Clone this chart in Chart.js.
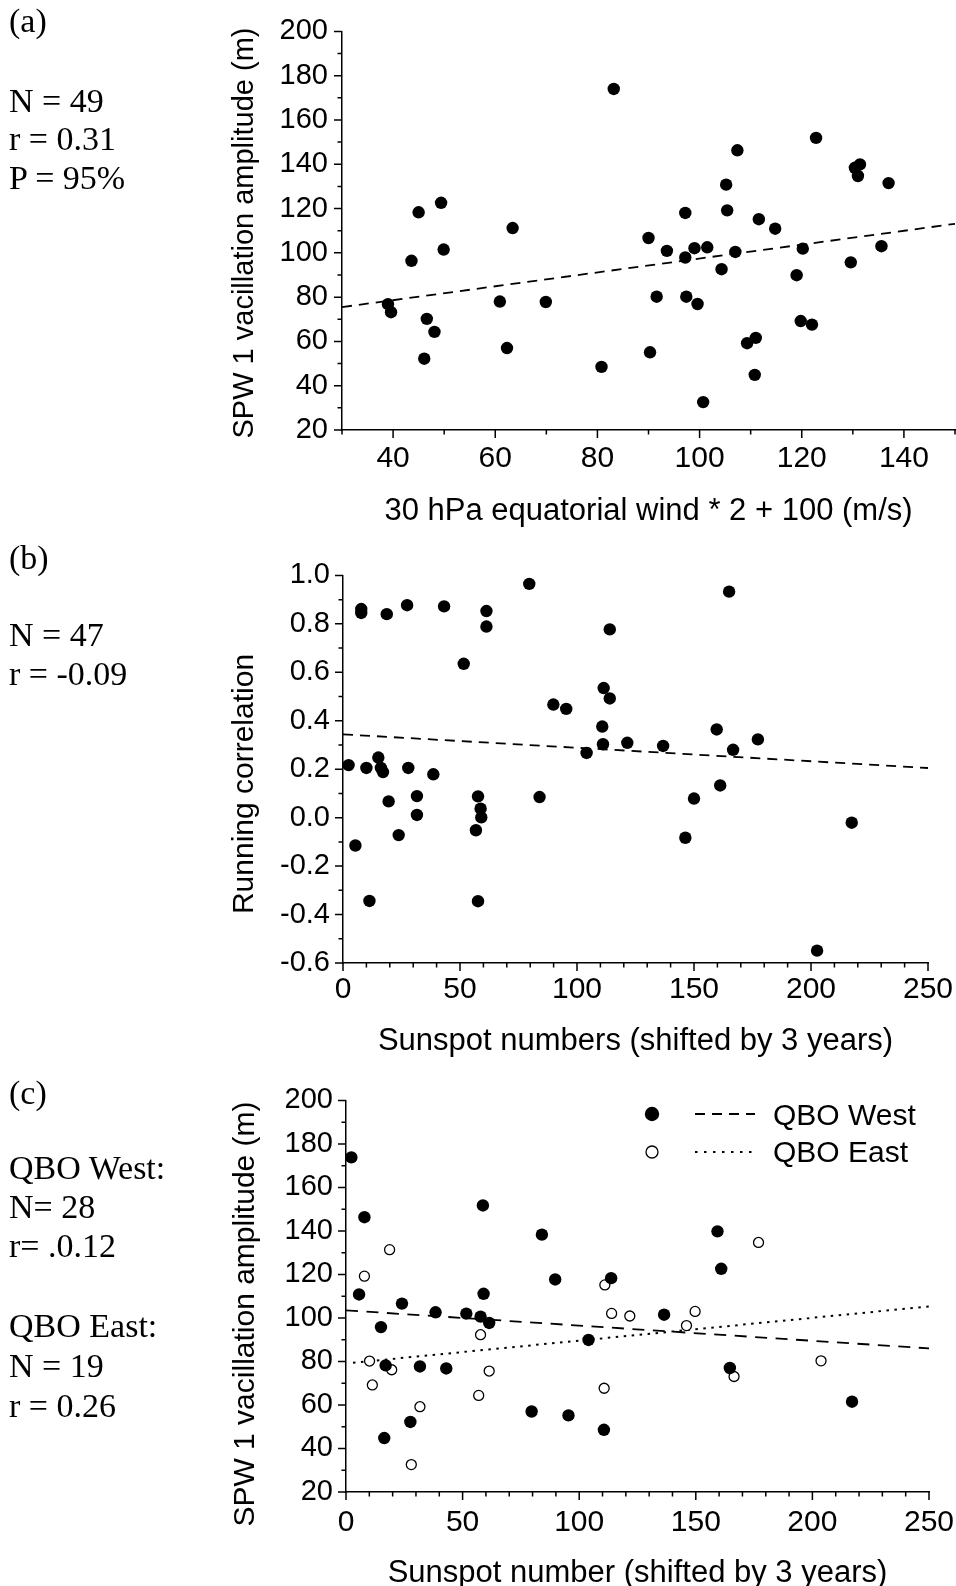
<!DOCTYPE html>
<html>
<head>
<meta charset="utf-8">
<script src="https://cdn.jsdelivr.net/npm/chart.js@4.4.1/dist/chart.umd.min.js"></script>
<style>
  html, body { margin: 0; padding: 0; background: #fff; overflow: hidden; }
  body { position: relative; width: 956px; height: 1586px; }
  canvas { position: absolute; left: 0; }
  .note { position: absolute; left: 9px; font-family: 'Liberation Serif', 'Times New Roman', serif; font-size: 34px; line-height: 34px; white-space: nowrap; color: #000; }
  .ytitle { position: absolute; width: 600px; height: 36px; text-align: center; font-family: 'Liberation Sans', Arial, sans-serif; font-size: 30px; line-height: 36px; white-space: nowrap; color: #000; transform: rotate(-90deg); }
  #legendC { position: absolute; left: 630px; top: 1095px; }
</style>
</head>
<body>

<!-- canvases are a little wider than the page so the last tick label is not squeezed -->
<canvas id="chartA" width="1000" height="545" style="top:0px"></canvas>
<canvas id="chartB" width="1000" height="525" style="top:545px"></canvas>
<canvas id="chartC" width="1000" height="530" style="top:1070px"></canvas>

<!-- panel notes -->
<div class="note" style="top:4px">(a)</div>
<div class="note" style="top:84px">N = 49</div>
<div class="note" style="top:122px">r = 0.31</div>
<div class="note" style="top:161px">P = 95%</div>

<div class="note" style="top:541px">(b)</div>
<div class="note" style="top:618px">N = 47</div>
<div class="note" style="top:657px">r = -0.09</div>

<div class="note" style="top:1076px">(c)</div>
<div class="note" style="top:1151px">QBO West:</div>
<div class="note" style="top:1190px">N= 28</div>
<div class="note" style="top:1229px">r= .0.12</div>
<div class="note" style="top:1309px">QBO East:</div>
<div class="note" style="top:1349px">N = 19</div>
<div class="note" style="top:1389px">r = 0.26</div>

<!-- y axis titles (placed off-centre like the original) -->
<div class="ytitle" style="left:-57px; top:215px; font-size:29px">SPW 1 vacillation amplitude (m)</div>
<div class="ytitle" style="left:-57px; top:766px">Running correlation</div>
<div class="ytitle" style="left:-56px; top:1296px">SPW 1 vacillation amplitude (m)</div>

<!-- legend for (c) -->
<svg id="legendC" width="300" height="80">
  <circle cx="22" cy="19" r="7.2" fill="#000"></circle>
  <line x1="65" y1="19" x2="125" y2="19" stroke="#000" stroke-width="1.8" stroke-dasharray="10 7"></line>
  <text x="143" y="30" font-family="Liberation Sans, Arial, sans-serif" font-size="30">QBO West</text>
  <circle cx="22" cy="57" r="6" fill="#fff" stroke="#000" stroke-width="1.3"></circle>
  <line x1="65" y1="57" x2="128" y2="57" stroke="#000" stroke-width="2" stroke-dasharray="2.5 6.5"></line>
  <text x="143" y="67" font-family="Liberation Sans, Arial, sans-serif" font-size="30">QBO East</text>
</svg>

<script>
const FONT = "'Liberation Sans', Arial, sans-serif";
const CANVAS_W = 1000;

// (a) SPW 1 amplitude vs 30 hPa equatorial wind
const aWind = [83.2, 45.0, 49.4, 63.4, 49.9, 43.6, 39.0, 39.6, 60.9, 69.9, 46.6, 48.1, 62.3, 46.1, 80.8,
  90.0, 90.3, 91.6, 93.6, 97.2, 97.2, 97.4, 99.0, 99.6, 100.7, 101.5, 104.3, 105.2, 105.4, 107.0, 107.4,
  109.3, 111.0, 110.8, 111.6, 114.8, 119.0, 119.8, 120.2, 122.0, 122.8, 129.6, 130.4, 131.4, 131.0, 135.6, 137.0];
const aAmp = [174.0, 118.3, 122.6, 111.2, 101.5, 96.4, 76.8, 73.2, 78.0, 77.8, 70.2, 64.3, 57.0, 52.2, 48.5,
  106.7, 55.1, 80.2, 100.9, 118.0, 97.9, 80.2, 102.1, 76.9, 32.6, 102.5, 92.6, 130.8, 119.2, 100.4, 146.3,
  59.2, 61.6, 44.9, 115.2, 110.9, 89.9, 69.2, 101.9, 67.6, 151.9, 95.7, 138.4, 139.9, 134.7, 103.0, 131.5];
const aFitX = [30, 150];
const aFitY = [75.5, 113.1];
const aXTicks = [40, 60, 80, 100, 120, 140];
const aYTicks = [20, 40, 60, 80, 100, 120, 140, 160, 180, 200];

// (b) running correlation vs sunspot numbers
const bSunspots = [79.6, 7.8, 7.8, 18.7, 27.4, 43.2, 61.3, 61.3, 114.0, 51.6, 89.9, 95.4, 111.4, 114.0, 110.8, 111.1,
  121.5, 104.1, 2.4, 10.0, 15.1, 16.2, 17.1, 27.9, 38.6, 19.5, 31.6, 31.6, 57.7, 58.8, 59.1, 56.8, 84.0, 23.8,
  5.3, 11.3, 57.7, 165.0, 159.7, 136.8, 166.7, 177.3, 161.2, 150.0, 146.3, 217.4, 202.6];
const bCorr = [0.965, 0.861, 0.845, 0.840, 0.877, 0.872, 0.853, 0.789, 0.777, 0.635, 0.467, 0.449, 0.535, 0.492, 0.376, 0.303,
  0.309, 0.267, 0.217, 0.205, 0.248, 0.205, 0.188, 0.205, 0.179, 0.067, 0.089, 0.011, 0.088, 0.037, 0.001, -0.052, 0.085, -0.072,
  -0.115, -0.344, -0.345, 0.933, 0.364, 0.296, 0.280, 0.323, 0.133, 0.079, -0.083, -0.021, -0.549];
const bFitX = [0, 250];
const bFitY = [0.344, 0.205];
const bXTicks = [0, 50, 100, 150, 200, 250];
const bYTicks = [-0.6, -0.4, -0.2, 0, 0.2, 0.4, 0.6, 0.8, 1.0];

// (c) SPW 1 amplitude vs sunspot number, split by QBO phase
const cSunWest = [2.3, 7.9, 5.6, 24.0, 15.0, 17.0, 31.7, 43.0, 38.4, 51.6, 57.7, 61.4, 59.0, 58.7, 84.0, 89.7, 113.7,
  104.0, 79.6, 95.4, 110.6, 27.6, 16.4, 159.3, 160.9, 136.4, 164.6, 217.0];
const cAmpWest = [173.8, 146.3, 110.8, 106.6, 95.8, 78.2, 77.7, 76.8, 102.6, 102.0, 100.6, 97.7, 111.1, 151.7, 138.3, 117.7, 118.3,
  89.9, 57.0, 55.2, 48.6, 52.2, 44.8, 139.8, 122.6, 101.5, 77.0, 61.5];
const cSunEast = [18.7, 7.9, 10.1, 19.6, 11.3, 31.7, 28.0, 57.7, 61.4, 56.9, 111.0, 113.9, 121.7, 110.7, 176.9, 149.7, 146.0, 166.4, 203.7];
const cAmpEast = [131.4, 119.2, 80.2, 76.2, 69.2, 59.2, 32.6, 92.3, 75.6, 64.4, 115.2, 102.1, 100.9, 67.7, 134.7, 103.0, 96.5, 73.1, 80.3];
const cFitWestX = [0, 250];
const cFitWestY = [103.5, 86.0];
const cFitEastX = [3, 250];
const cFitEastY = [79.4, 105.3];
const cXTicks = [0, 50, 100, 150, 200, 250];
const cYTicks = [20, 40, 60, 80, 100, 120, 140, 160, 180, 200];

function toPoints(xs, ys) {
  return xs.map((x, i) => ({x: x, y: ys[i]}));
}

// short ticks between the labelled ones (Chart.js has no minor ticks)
const minorTicks = {
  id: 'minorTicks',
  afterDraw(chart, args, opts) {
    const ctx = chart.ctx;
    ctx.save();
    ctx.strokeStyle = '#000';
    ctx.lineWidth = 1.5;
    ctx.beginPath();
    for (const id of ['x', 'y']) {
      const scale = chart.scales[id];
      const step = opts[id];
      const majors = scale.ticks.map(t => t.value);
      const n = Math.round((scale.max - scale.min) / step);
      for (let i = 0; i <= n; ++i) {
        const v = scale.min + i * step;
        const len = majors.some(m => Math.abs(m - v) < step / 100) ? 8 : 4.5;
        const p = scale.getPixelForValue(v);
        if (id === 'x') {
          ctx.moveTo(p, scale.top);
          ctx.lineTo(p, scale.top + len);
        } else {
          ctx.moveTo(scale.right, p);
          ctx.lineTo(scale.right - len, p);
        }
      }
    }
    ctx.stroke();
    ctx.restore();
  }
};

function dots(xs, ys, filled) {
  return {
    data: toPoints(xs, ys),
    pointRadius: filled ? 6.2 : 5,
    pointBackgroundColor: filled ? '#000' : '#fff',
    pointBorderColor: '#000',
    pointBorderWidth: filled ? 0 : 1.3,
    showLine: false
  };
}

function fitLine(xs, ys, dash, width) {
  return {
    data: toPoints(xs, ys),
    showLine: true,
    borderColor: '#000',
    borderWidth: width,
    borderDash: dash,
    pointRadius: 0,
    fill: false
  };
}

function axis(min, max, tickValues, fontSize, pad, format) {
  const ticks = { color: '#000', font: { family: FONT, size: fontSize }, padding: pad, autoSkip: false, maxRotation: 0 };
  if (format) ticks.callback = format;
  return {
    type: 'linear',
    min: min,
    max: max,
    grid: { display: false, drawTicks: false },
    border: { display: true, color: '#000', width: 1.5 },
    ticks: ticks,
    afterBuildTicks: scale => { scale.ticks = tickValues.map(v => ({value: v})); }
  };
}

function makeChart(id, box, datasets, xScale, yScale, xTitle, steps) {
  const X_HEIGHT = 100;
  const Y_WIDTH = 120;
  xScale.afterFit = scale => { scale.height = X_HEIGHT; };
  yScale.afterFit = scale => { scale.width = Y_WIDTH; };
  xScale.title = {
    display: true,
    text: xTitle,
    color: '#000',
    font: { family: FONT, size: box.titleSize },
    padding: { top: 0, bottom: box.titlePad }
  };
  return new Chart(document.getElementById(id), {
    type: 'scatter',
    data: { datasets: datasets },
    options: {
      responsive: false,
      animation: false,
      devicePixelRatio: 1,
      layout: {
        padding: {
          left: box.left - Y_WIDTH,
          right: CANVAS_W - box.right,
          top: box.plotTop - box.top,
          bottom: box.top + box.height - box.plotBottom - X_HEIGHT
        }
      },
      plugins: { legend: { display: false }, tooltip: { enabled: false }, minorTicks: steps },
      scales: { x: xScale, y: yScale }
    },
    plugins: [minorTicks]
  });
}

makeChart('chartA',
  { top: 0, height: 545, left: 342, right: 955, plotTop: 27, plotBottom: 430, titleSize: 31, titlePad: 0 },
  [ dots(aWind, aAmp, true), fitLine(aFitX, aFitY, [10, 7], 1.8) ],
  axis(30, 150, aXTicks, 30, 11),
  axis(20, 200, aYTicks, 29, 14),
  '30 hPa equatorial wind * 2 + 100 (m/s)',
  { x: 10, y: 10 });

makeChart('chartB',
  { top: 545, height: 525, left: 343, right: 928, plotTop: 562, plotBottom: 963, titleSize: 31, titlePad: 3 },
  [ dots(bSunspots, bCorr, true), fitLine(bFitX, bFitY, [10, 7], 1.8) ],
  axis(0, 250, bXTicks, 30, 9),
  axis(-0.6, 1.0, bYTicks, 29, 13, v => v.toFixed(1)),
  'Sunspot numbers (shifted by 3 years)',
  { x: 10, y: 0.1 });

makeChart('chartC',
  { top: 1070, height: 530, left: 346, right: 929, plotTop: 1093, plotBottom: 1492, titleSize: 31, titlePad: 0 },
  [ dots(cSunWest, cAmpWest, true), dots(cSunEast, cAmpEast, false),
    fitLine(cFitWestX, cFitWestY, [12, 8.5], 1.8), fitLine(cFitEastX, cFitEastY, [2.5, 5.5], 2) ],
  axis(0, 250, cXTicks, 30, 13),
  axis(20, 200, cYTicks, 29, 13),
  'Sunspot number (shifted by 3 years)',
  { x: 10, y: 10 });
</script>
</body>
</html>
